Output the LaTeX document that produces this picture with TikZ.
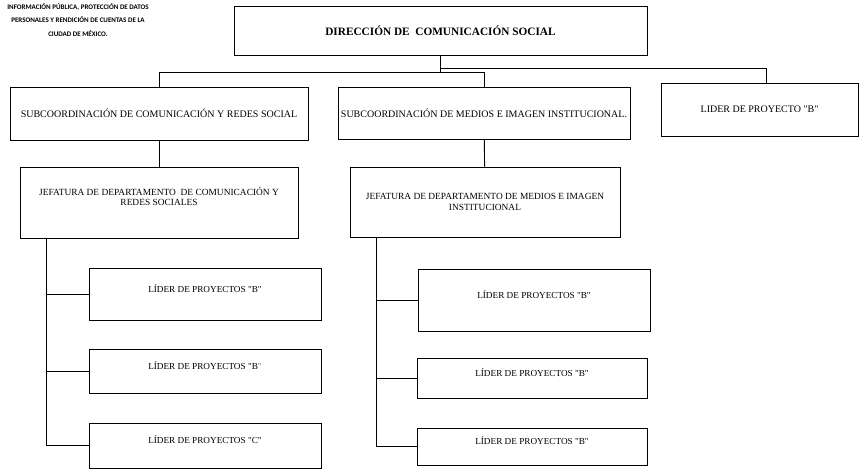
\documentclass[tikz,border=0pt]{standalone}
\usepackage{fontspec}
\setmainfont{Liberation Serif}[Ligatures=TeXOff]
\newfontfamily\headfont{Carlito}
\usepackage{tikz}
\definecolor{quoteblue}{RGB}{68,114,196}

\begin{document}
\begin{tikzpicture}[x=1pt, y=-1pt, line width=0.9pt,
      box/.style={draw, inner sep=0pt, align=center, font=\fontsize{10}{11}\selectfont},
      leaf/.style={box, minimum width=232, font=\fontsize{9.2}{10}\selectfont, text height=7pt, text depth=11pt}]
      \useasboundingbox (0,0) rectangle (859,469);
      \node [font=\headfont\bfseries\fontsize{7}{13.3}\selectfont, align=center] (inst) at (78,20) {INFORMACIÓN PÚBLICA, PROTECCIÓN DE DATOS\\PERSONALES Y RENDICIÓN DE CUENTAS DE LA\\CIUDAD DE MÉXICO.};
      \node [box, minimum width=413, minimum height=49, font=\bfseries\fontsize{11.3}{13}\selectfont] (dir) at (440.5,30.5) {DIRECCIÓN DE\ \ COMUNICACIÓN SOCIAL};
      % second level
      \node [box, minimum width=298, minimum height=53] (sub1) at (159,113.5) {SUBCOORDINACIÓN DE COMUNICACIÓN Y REDES SOCIAL};
      \node [box, minimum width=292, minimum height=52] (sub2) at (484,113) {SUBCOORDINACIÓN DE MEDIOS E IMAGEN INSTITUCIONAL.};
      \node [box, minimum width=197, minimum height=53] (sub3) at (759.5,109.5) {LIDER DE PROYECTO "B"};
      % departments
      \node [box, minimum width=278, minimum height=71, font=\fontsize{9.4}{10}\selectfont, text depth=12pt] (jef1) at (159,202.5) {JEFATURA DE DEPARTAMENTO\ \ DE COMUNICACIÓN Y\\REDES SOCIALES};
      \node [box, minimum width=270, minimum height=70, font=\fontsize{9.4}{10.5}\selectfont] (jef2) at (485,202) {JEFATURA DE DEPARTAMENTO DE MEDIOS E IMAGEN\\INSTITUCIONAL};
      % project leaders
      \node [leaf, minimum height=52] (l1a) at (205,294) {LÍDER DE PROYECTOS "B"};
      \node [leaf, minimum height=44] (l1b) at (205,371) {LÍDER DE PROYECTOS "B\textcolor{quoteblue}{"}};
      \node [leaf, minimum height=45] (l1c) at (205,445.5) {LÍDER DE PROYECTOS "C"};
      \node [leaf, minimum height=62] (l2a) at (534,300) {LÍDER DE PROYECTOS "B"};
      \node [leaf, minimum width=230, minimum height=40] (l2b) at (532,378) {LÍDER DE PROYECTOS "B"};
      \node [leaf, minimum width=230, minimum height=37] (l2c) at (532,446.5) {LÍDER DE PROYECTOS "B"};
      \draw (dir.south) -- ++(0,17) -| (sub1.north);
      \draw (dir.south) -- ++(0,17) -| (sub2.north);
      \draw (dir.south) -- ++(0,13) -| ([xshift=6.5]sub3.north);
      \draw (sub1) to (jef1);
      \draw (sub2) to (jef2);
      \foreach \l in {l1a,l1b,l1c}
        \draw ([xshift=27]jef1.south west) |- (\l.west);
      \foreach \l in {l2a,l2b,l2c}
        \draw ([xshift=27]jef2.south west) |- (\l.west);
      \end{tikzpicture}
\end{document}
